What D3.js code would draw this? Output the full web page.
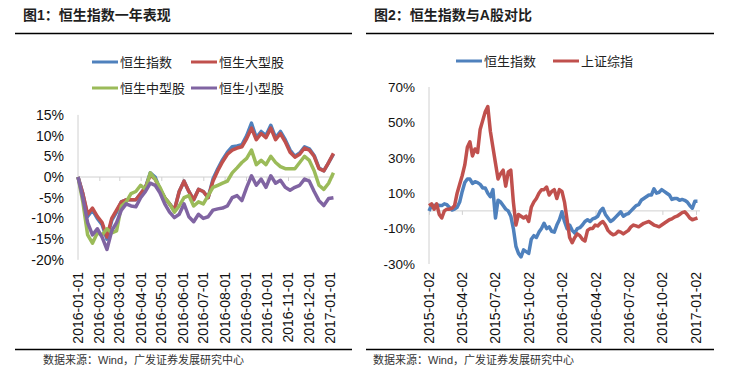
<!DOCTYPE html>
<html>
<head>
<meta charset="utf-8">
<script src="https://cdn.jsdelivr.net/npm/d3@7/dist/d3.min.js"></script>
<style>
  body { margin: 0; background: #fff; }
  text { font-family: "Liberation Sans", Arial, "Noto Sans CJK SC", sans-serif; }
</style>
</head>
<body>
<script>
// 图1 weekly points from 2016-01-01
var start1 = "2016-01-01"
var hsiYear = [0, -4, -9.5, -8, -10, -11.5, -15, -10.5, -8.5, -6, -5.5, -5.5, -5.5, -4, -2.5, 1, 0, -3, -5, -6.5,
  -8, -3.5, -1, -3.5, -5.5, -3, -3.5, -5, -0.5, 2, 4.2, 6, 7.3, 7.5, 7.8, 10, 13, 9.5, 11, 10,
  12.5, 9.5, 11, 9, 6.5, 5, 5.8, 7.3, 6.8, 5.2, 2.2, 1.5, 3.5, 5.5]
var largeCap = [0, -4, -9, -7.5, -9.5, -11, -14.5, -10, -8, -6, -5.5, -5.5, -5.5, -4, -2.5, 0.5, -0.5, -3, -5, -6.5,
  -8, -3.5, -1, -3.5, -5.5, -3, -3.5, -5, -1, 1.5, 3.7, 5.5, 6.5, 7, 7.3, 9.3, 11.8, 9, 10.5, 9.5,
  11.8, 9, 10.5, 8.5, 6, 4.8, 5.5, 7, 6.5, 5, 2, 1.5, 3.5, 5.7]
var midCap = [0, -6, -14, -16, -13.5, -14, -12.5, -13.5, -13, -7, -6, -4, -3.5, -2, -3, 1, -0.5, -2.5, -5, -6.5,
  -8.5, -7, -5, -4.5, -7, -6, -6.5, -4.5, -2.5, -2, -1.5, -1, 1, 2.2, 3.5, 4.5, 6.5, 3, 4, 3,
  5, 3.5, 2.5, 2, 2, 2, 3.5, 5, 4, 1.5, -2, -3, -1.5, 1]
var smallCap = [0, -5, -11, -14, -12.5, -14.5, -17.5, -13, -11, -8, -6.5, -7, -7.2, -5, -3.5, -1.5, -2, -3.8, -6.5, -8.5,
  -9.8, -9, -6.5, -9.6, -10.8, -9, -10, -9.6, -8, -7.7, -7.5, -7, -5, -4.5, -5.7, -2.5, 0.3, -2, -0.5, -2.5,
  0.3, -1.5, -0.8, -2.5, -3.2, -2.5, -2, -0.5, -1, -3.5, -5.7, -6.9, -5.2, -5]
var monthTicks = ["2016-01-01", "2016-02-01", "2016-03-01", "2016-04-01", "2016-05-01", "2016-06-01", "2016-07-01",
  "2016-08-01", "2016-09-01", "2016-10-01", "2016-11-01", "2016-12-01", "2017-01-01"]
var yTicks1 = [15, 10, 5, 0, -5, -10, -15, -20]

// 图2 weekly points from 2015-01-02
var start2 = "2015-01-02"
var hsi2 = [0, 3, 3, 3.5, 3, 3, 4, 3.5, 2, 0.5, 1, 2, 5, 11, 16, 18, 18, 15.5, 16.5, 16,
  15, 13, 13, 10, 8, 12, -4, 6, 5, 3, 1, 0, -3, -10, -20, -24, -26, -22, -23, -24,
  -16, -14, -15, -12, -10, -7, -10, -9, -11.5, -12, -8, -5, -0.5, -6, -10, -8, -11, -12.5, -10, -9.5,
  -8, -6, -5, -6, -4.5, -4, -3, 0, 1.5, -2, -4, -6, -5, -3.5, -2, -0.5, -3, -2, -1.5, 0,
  1.5, 3, 3.5, 6, 7, 8, 9, 9, 12.5, 10, 10.5, 12, 11, 10, 9, 6.5, 7, 7, 6, 6.5,
  6, 5, 3, 1.5, 5.5, 5.5]
var shComp = [3, 4, 1, 4, -2, -4, 0, 1, 1, 1.5, 3, 10, 15, 20, 26, 36, 39, 31, 35, 33,
  46, 51, 56, 59, 45, 36, 27, 18, 21, 23, 14, 22, 23, 5, -8, -2, -3, -4, -3, -6,
  2, 5, 7, 10, 12, 12, 13.5, 9, 11, 12, 7, 12, 11, 5, -5, -15, -18, -15, -13, -14,
  -16, -17, -11, -10, -10, -8, -8.5, -7, -6, -8, -11, -12.5, -13.5, -13, -11.5, -12, -13, -12, -11, -9,
  -8, -8.5, -9, -8, -7, -6.5, -6, -7, -8, -8.5, -9, -8, -7, -6, -5, -4.5, -3.5, -3, -2, -1,
  -0.5, -2, -4, -5, -4.5, -4]
var quarterTicks = ["2015-01-02", "2015-04-02", "2015-07-02", "2015-10-02", "2016-01-02", "2016-04-02",
  "2016-07-02", "2016-10-02", "2017-01-02"]
var yTicks2 = [70, 50, 30, 10, -10, -30]

var colors = { blue: "#4F81BD", red: "#C0504D", green: "#9BBB59", purple: "#8064A2" }
var parse = d3.timeParse("%Y-%m-%d")

var svg = d3.select("body").append("svg").attr("width", 733).attr("height", 373)

function weekly(startStr, values) {
  var s = parse(startStr)
  return values.map(function (v, i) { return { date: d3.timeDay.offset(s, 7 * i), value: v } })
}

function frame(left, right, title, footerX) {
  svg.append("text")
    .attr("x", left + 8).attr("y", 20)
    .attr("font-family", "'Noto Sans CJK SC', sans-serif")
    .attr("font-weight", "bold")
    .attr("font-size", 14)
    .attr("fill", "#1f1f1f")
    .text(title)
  svg.append("line").attr("x1", left).attr("x2", right).attr("y1", 33.5).attr("y2", 33.5)
    .attr("stroke", "#000").attr("stroke-width", 1.3)
  svg.append("line").attr("x1", left).attr("x2", right).attr("y1", 349.5).attr("y2", 349.5)
    .attr("stroke", "#000").attr("stroke-width", 1.3)
  svg.append("text")
    .attr("x", footerX).attr("y", 364)
    .attr("font-family", "'Noto Sans CJK SC', sans-serif")
    .attr("font-size", 11)
    .attr("fill", "#333")
    .text("数据来源：Wind，广发证券发展研究中心")
}

function legendItem(x, y, color, label) {
  svg.append("line").attr("x1", x).attr("x2", x + 26).attr("y1", y).attr("y2", y)
    .attr("stroke", color).attr("stroke-width", 3)
  svg.append("text").attr("x", x + 28).attr("y", y).attr("dy", "0.36em")
    .attr("font-family", "'Noto Sans CJK SC', sans-serif")
    .attr("font-size", 13).attr("fill", "#222")
    .text(label)
}

function axes(x, y, ticks, yTicks, yFont, labelTop) {
  var x0 = x.range()[0], x1 = x.range()[1]
  var yr = y.range()
  svg.append("line").attr("x1", x0).attr("x2", x0).attr("y1", yr[1]).attr("y2", yr[0])
    .attr("stroke", "#d0d0d0").attr("stroke-width", 1)

  var xa = d3.axisBottom(x).tickValues(ticks.map(parse)).tickSize(4).tickFormat("")
  var g = svg.append("g").attr("transform", "translate(0," + y(0) + ")").call(xa)
  g.select(".domain").attr("stroke", "#d0d0d0").attr("d", "M" + x0 + ",0H" + (x1 + 4))
  g.selectAll(".tick line").attr("stroke", "#d0d0d0")

  svg.selectAll(null).data(ticks).enter().append("text")
    .attr("transform", function (d) { return "translate(" + x(parse(d)) + "," + labelTop + ") rotate(-90)" })
    .attr("text-anchor", "end")
    .attr("dy", "0.36em")
    .attr("font-size", 14)
    .attr("fill", "#111")
    .text(function (d) { return d })

  svg.selectAll(null).data(yTicks).enter().append("text")
    .attr("x", x0 - 14).attr("y", function (d) { return y(d) })
    .attr("dy", "0.36em")
    .attr("text-anchor", "end")
    .attr("font-size", yFont)
    .attr("fill", "#111")
    .text(function (d) { return d + "%" })
}

function drawLine(x, y, data, color) {
  var line = d3.line().x(function (d) { return x(d.date) }).y(function (d) { return y(d.value) })
  svg.append("path").datum(data)
    .attr("d", line)
    .attr("fill", "none")
    .attr("stroke", color)
    .attr("stroke-width", 3.5)
    .attr("stroke-linejoin", "round")
}

// chart 1
frame(15, 352, "图1：恒生指数一年表现", 43)
legendItem(92, 62, colors.blue, "恒生指数")
legendItem(191, 62, colors.red, "恒生大型股")
legendItem(92, 88, colors.green, "恒生中型股")
legendItem(191, 88, colors.purple, "恒生小型股")

var x1 = d3.scaleTime().domain([parse("2016-01-01"), parse("2017-01-01")]).range([78, 330])
var y1 = d3.scaleLinear().domain([-20, 15]).range([259.8, 114.9])
axes(x1, y1, monthTicks, yTicks1, 14, 272)
drawLine(x1, y1, weekly(start1, hsiYear), colors.blue)
drawLine(x1, y1, weekly(start1, largeCap), colors.red)
drawLine(x1, y1, weekly(start1, midCap), colors.green)
drawLine(x1, y1, weekly(start1, smallCap), colors.purple)

// chart 2
frame(366, 714, "图2：恒生指数与A股对比", 373)
legendItem(456, 61, colors.blue, "恒生指数")
legendItem(553, 61, colors.red, "上证综指")

var x2 = d3.scaleTime().domain([parse("2015-01-02"), parse("2017-01-02")]).range([429, 696])
var y2 = d3.scaleLinear().domain([-30, 70]).range([264, 87])
axes(x2, y2, quarterTicks, yTicks2, 13.5, 272)
drawLine(x2, y2, weekly(start2, hsi2), colors.blue)
drawLine(x2, y2, weekly(start2, shComp), colors.red)
</script>
</body>
</html>
